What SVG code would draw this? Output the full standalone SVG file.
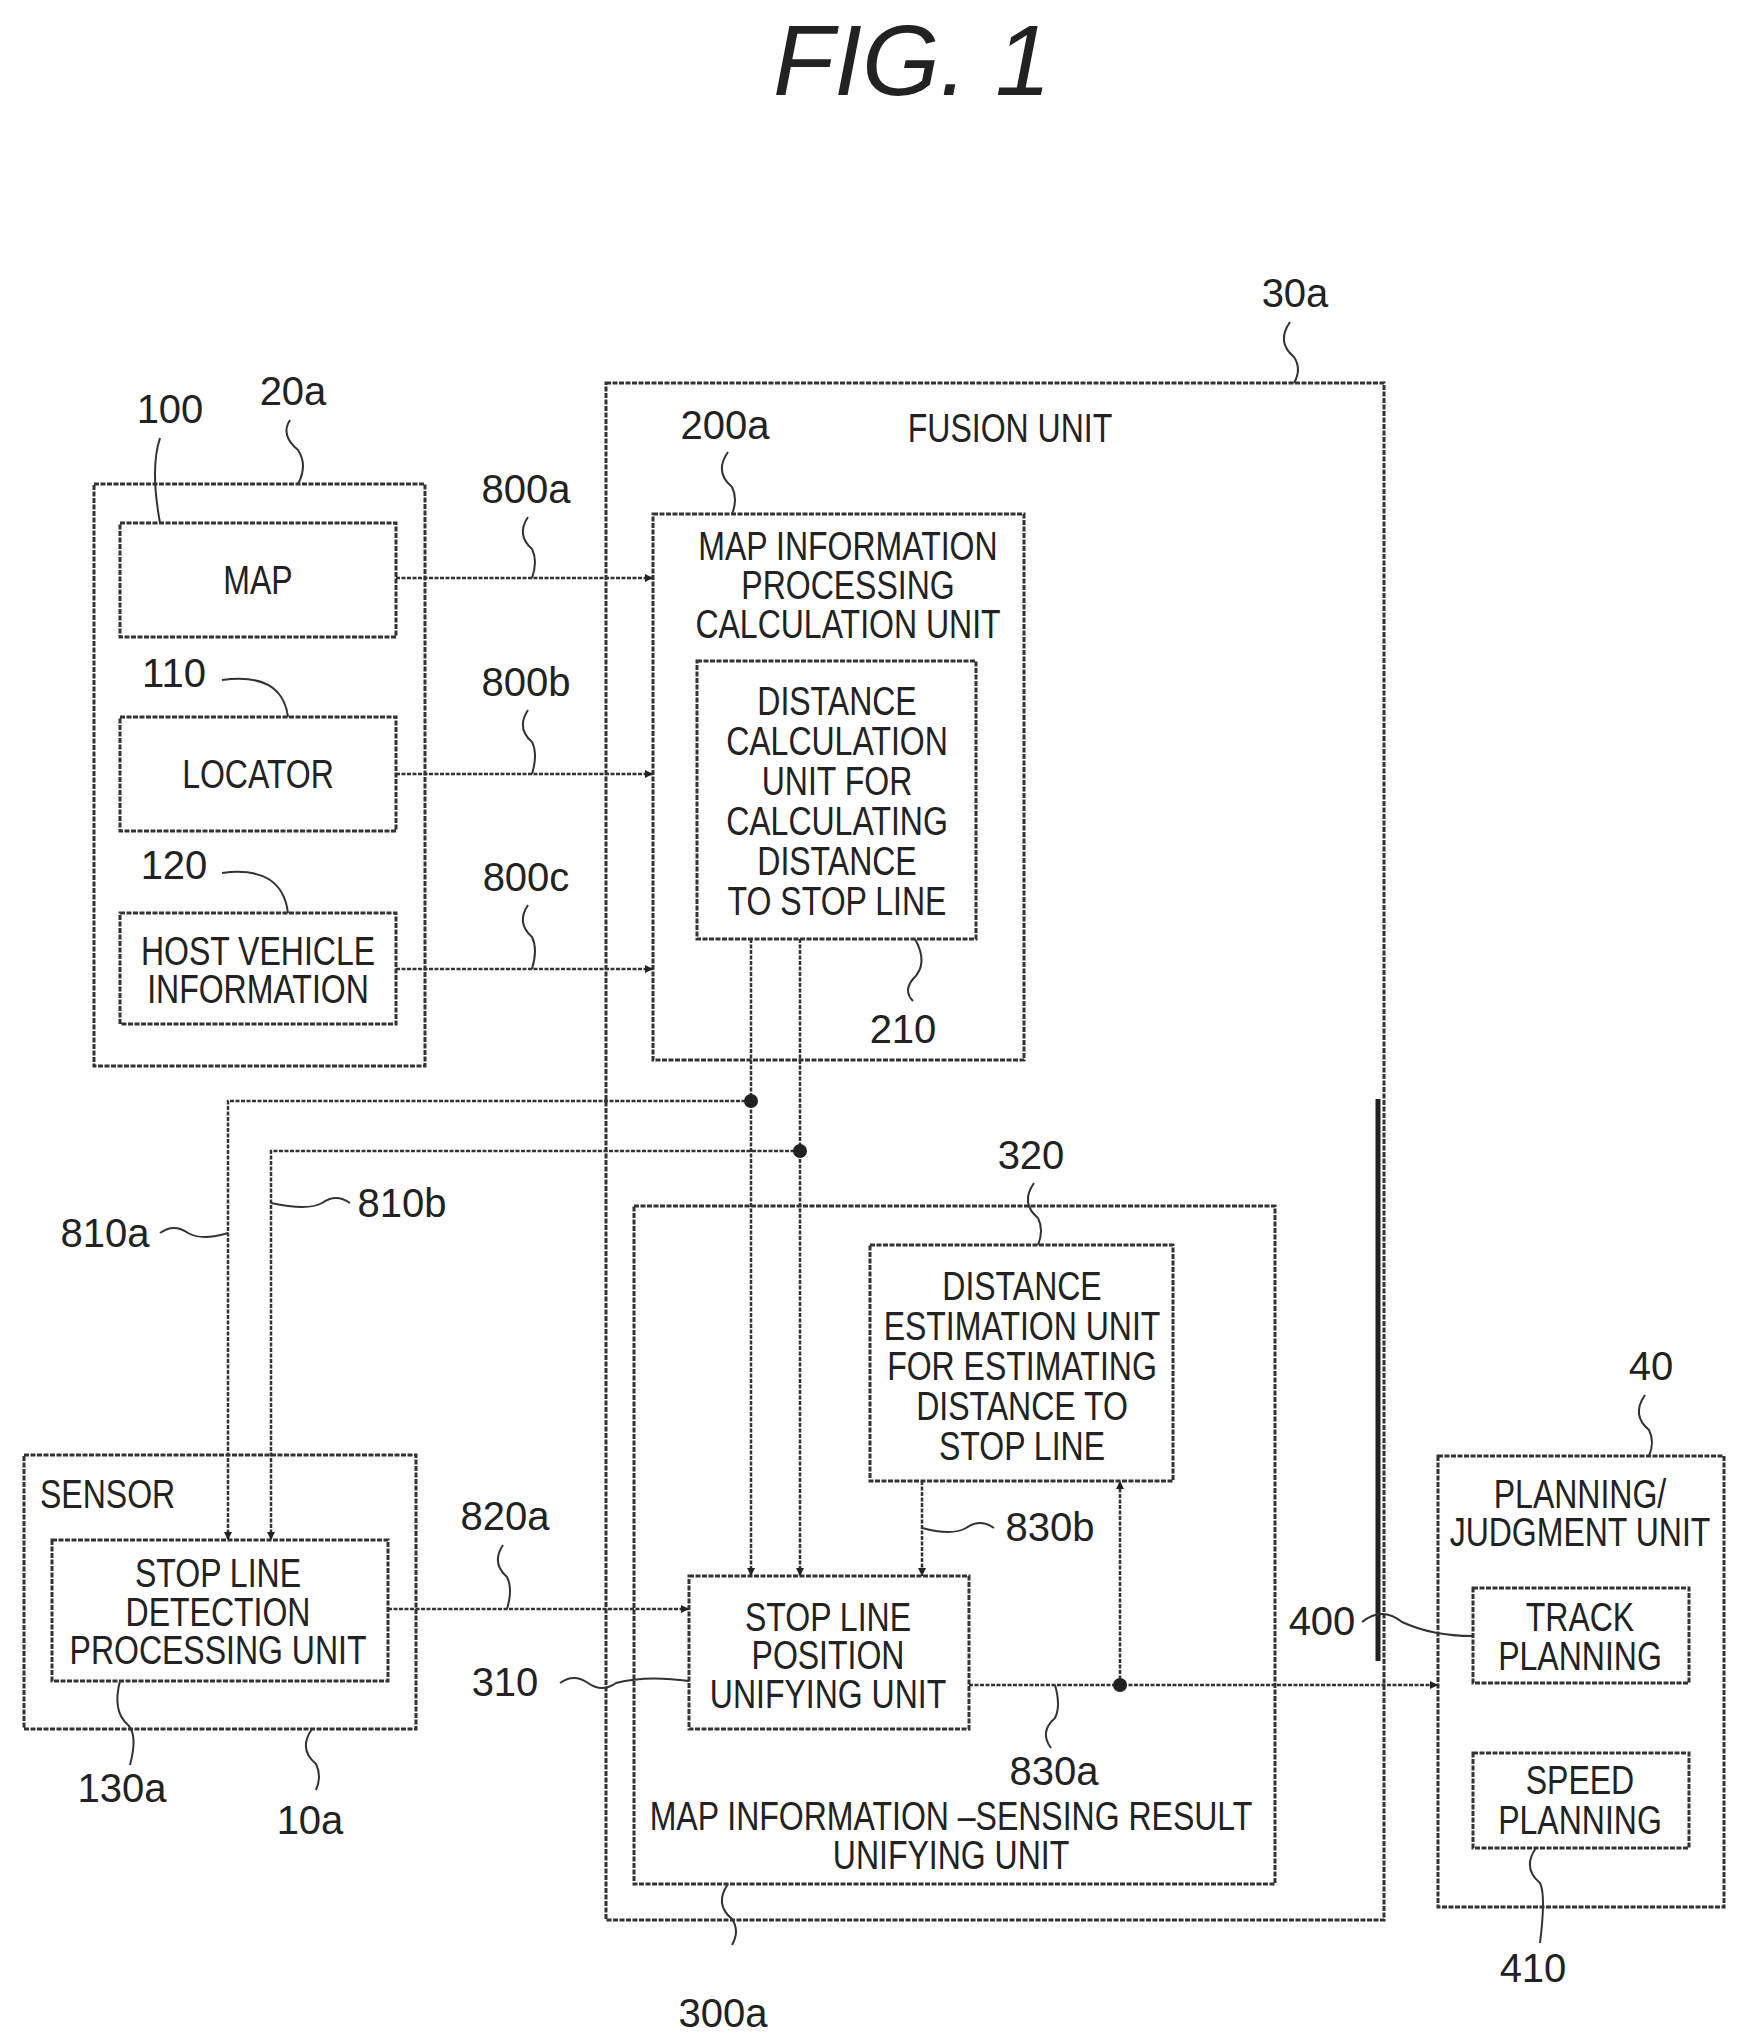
<svg xmlns="http://www.w3.org/2000/svg" width="1745" height="2041" viewBox="0 0 1745 2041">
<defs>
<marker id="ah" viewBox="0 0 10 10" refX="10" refY="5" markerWidth="8" markerHeight="8" markerUnits="userSpaceOnUse" orient="auto"><path d="M0,0 L10,5 L0,10 Z" fill="#222"/></marker>
<style>
.b{fill:none;stroke:#333;stroke-width:3;stroke-dasharray:5 1.5}
.t{font-family:"Liberation Sans",sans-serif;font-size:40px;fill:#222;text-anchor:middle}
.l{font-family:"Liberation Sans",sans-serif;font-size:40px;fill:#222;text-anchor:middle}
.c{fill:none;stroke:#333;stroke-width:2.5;stroke-dasharray:4 1.5}
.s{fill:none;stroke:#333;stroke-width:2}
</style>
</defs>
<rect width="1745" height="2041" fill="#fff"/>
<text x="912" y="95" style="font-family:'Liberation Sans',sans-serif;font-size:100px;font-style:italic;fill:#222;text-anchor:middle">FIG. 1</text>

<g id="n20a"><rect class="b" x="94" y="484" width="331" height="582"/>
<text class="l" x="293" y="405">20a</text><path class="s" d="M290,420 q-10,15 8,30 q10,15 0,34"/>
<text class="l" x="170" y="423">100</text><path class="s" d="M160,438 q-10,30 0,85"/></g>
<g id="n100"><rect class="b" x="120" y="523" width="276" height="114"/><g transform="translate(258,0) scale(0.8,1) translate(-258,0)"><text class="t" x="258" y="594">MAP</text></g></g>
<g id="n110"><rect class="b" x="120" y="717" width="276" height="114"/><g transform="translate(258,0) scale(0.8,1) translate(-258,0)"><text class="t" x="258" y="788">LOCATOR</text></g>
<text class="l" x="174" y="687">110</text><path class="s" d="M222,680 q60,-8 66,37"/></g>
<g id="n120"><rect class="b" x="120" y="913" width="276" height="111"/><g transform="translate(258,0) scale(0.8,1) translate(-258,0)"><text class="t" x="258" y="965">HOST VEHICLE</text><text class="t" x="258" y="1003">INFORMATION</text></g>
<text class="l" x="174" y="879">120</text><path class="s" d="M222,873 q60,-8 66,40"/></g>

<g id="n30a"><rect class="b" x="606" y="383" width="778" height="1537"/><line x1="1378" y1="1099" x2="1378" y2="1661" stroke="#222" stroke-width="5"/>
<text class="l" x="1295" y="307">30a</text><path class="s" d="M1290,322 q-14,20 4,35 q8,12 0,26"/>
<g transform="translate(1010,0) scale(0.8,1) translate(-1010,0)"><text class="t" x="1010" y="442">FUSION UNIT</text></g></g>
<g id="n200a"><rect class="b" x="653" y="514" width="371" height="546"/>
<text class="l" x="725" y="439">200a</text><path class="s" d="M728,452 q-14,20 4,35 q6,12 0,27"/>
<g transform="translate(848,0) scale(0.8,1) translate(-848,0)"><text class="t" x="848" y="560">MAP INFORMATION</text><text class="t" x="848" y="599">PROCESSING</text><text class="t" x="848" y="638">CALCULATION UNIT</text></g></g>
<g id="n210"><rect class="b" x="697" y="661" width="279" height="278"/>
<g transform="translate(837,0) scale(0.8,1) translate(-837,0)"><text class="t" x="837" y="715">DISTANCE</text><text class="t" x="837" y="755">CALCULATION</text><text class="t" x="837" y="795">UNIT FOR</text><text class="t" x="837" y="835">CALCULATING</text><text class="t" x="837" y="875">DISTANCE</text><text class="t" x="837" y="915">TO STOP LINE</text></g>
<text class="l" x="903" y="1043">210</text><path class="s" d="M915,939 q14,25 -2,40 q-10,12 0,22"/></g>

<g id="n300a"><rect class="b" x="634" y="1206" width="641" height="678"/>
<g transform="translate(951,0) scale(0.8,1) translate(-951,0)"><text class="t" x="951" y="1830">MAP INFORMATION –SENSING RESULT</text><text class="t" x="951" y="1869">UNIFYING UNIT</text></g>
<text class="l" x="723" y="2027">300a</text><path class="s" d="M728,1884 q-14,20 4,35 q8,12 0,26"/></g>
<g id="n320"><rect class="b" x="870" y="1245" width="303" height="236"/>
<g transform="translate(1022,0) scale(0.8,1) translate(-1022,0)"><text class="t" x="1022" y="1300">DISTANCE</text><text class="t" x="1022" y="1340">ESTIMATION UNIT</text><text class="t" x="1022" y="1380">FOR ESTIMATING</text><text class="t" x="1022" y="1420">DISTANCE TO</text><text class="t" x="1022" y="1460">STOP LINE</text></g>
<text class="l" x="1031" y="1169">320</text><path class="s" d="M1034,1183 q-14,20 4,35 q6,12 0,27"/></g>
<g id="n310"><rect class="b" x="689" y="1576" width="280" height="153"/>
<g transform="translate(828,0) scale(0.8,1) translate(-828,0)"><text class="t" x="828" y="1631">STOP LINE</text><text class="t" x="828" y="1669">POSITION</text><text class="t" x="828" y="1708">UNIFYING UNIT</text></g>
<text class="l" x="505" y="1696">310</text><path class="s" d="M560,1683 q14,-10 28,0 q14,10 28,0 q30,-8 73,-2"/></g>

<g id="n10a"><rect class="b" x="24" y="1455" width="392" height="274"/>
<g transform="translate(40,0) scale(0.8,1) translate(-40,0)"><text class="t" x="40" y="1508" style="text-anchor:start">SENSOR</text></g>
<text class="l" x="310" y="1834">10a</text><path class="s" d="M312,1729 q-14,20 4,35 q6,12 0,26"/></g>
<g id="n130a"><rect class="b" x="52" y="1540" width="336" height="141"/>
<g transform="translate(218,0) scale(0.8,1) translate(-218,0)"><text class="t" x="218" y="1587">STOP LINE</text><text class="t" x="218" y="1626">DETECTION</text><text class="t" x="218" y="1664">PROCESSING UNIT</text></g>
<text class="l" x="122" y="1802">130a</text><path class="s" d="M120,1681 q-8,30 8,44 q10,10 2,40"/></g>

<g id="n40"><rect class="b" x="1438" y="1456" width="286" height="451"/>
<g transform="translate(1580,0) scale(0.8,1) translate(-1580,0)"><text class="t" x="1580" y="1508">PLANNING/</text><text class="t" x="1580" y="1546">JUDGMENT UNIT</text></g>
<text class="l" x="1651" y="1380">40</text><path class="s" d="M1645,1395 q-14,20 4,35 q6,12 0,26"/></g>
<g id="n400"><rect class="b" x="1473" y="1588" width="216" height="95"/>
<g transform="translate(1580,0) scale(0.8,1) translate(-1580,0)"><text class="t" x="1580" y="1631">TRACK</text><text class="t" x="1580" y="1670">PLANNING</text></g>
<text class="l" x="1322" y="1635">400</text><path class="s" d="M1362,1622 q20,-16 40,0 q30,14 71,14"/></g>
<g id="n410"><rect class="b" x="1473" y="1753" width="216" height="95"/>
<g transform="translate(1580,0) scale(0.8,1) translate(-1580,0)"><text class="t" x="1580" y="1794">SPEED</text><text class="t" x="1580" y="1834">PLANNING</text></g>
<text class="l" x="1533" y="1982">410</text><path class="s" d="M1536,1848 q-14,20 4,35 q6,12 0,60"/></g>

<g id="connectors">
<line class="c" x1="396" y1="578" x2="653" y2="578" marker-end="url(#ah)"/>
<line class="c" x1="396" y1="774" x2="653" y2="774" marker-end="url(#ah)"/>
<line class="c" x1="396" y1="969" x2="653" y2="969" marker-end="url(#ah)"/>
<line class="c" x1="751" y1="939" x2="751" y2="1576" marker-end="url(#ah)"/>
<line class="c" x1="800" y1="939" x2="800" y2="1576" marker-end="url(#ah)"/>
<polyline class="c" points="751,1101 228,1101 228,1540" marker-end="url(#ah)"/>
<polyline class="c" points="800,1151 271,1151 271,1540" marker-end="url(#ah)"/>
<circle cx="751" cy="1101" r="7" fill="#222"/><circle cx="800" cy="1151" r="7" fill="#222"/>
<line class="c" x1="388" y1="1609" x2="689" y2="1609" marker-end="url(#ah)"/>
<line class="c" x1="922" y1="1481" x2="922" y2="1576" marker-end="url(#ah)"/>
<line class="c" x1="969" y1="1685" x2="1438" y2="1685" marker-end="url(#ah)"/>
<line class="c" x1="1120" y1="1685" x2="1120" y2="1481" marker-end="url(#ah)"/>
<circle cx="1120" cy="1685" r="7" fill="#222"/>
<text class="l" x="526" y="503">800a</text><path class="s" d="M528,517 q-12,18 4,32 q6,12 0,29"/>
<text class="l" x="526" y="696">800b</text><path class="s" d="M528,710 q-12,18 4,32 q6,12 0,32"/>
<text class="l" x="526" y="891">800c</text><path class="s" d="M528,905 q-12,18 4,32 q6,12 0,32"/>
<text class="l" x="105" y="1247">810a</text><path class="s" d="M160,1233 q14,-10 28,0 q14,8 40,0"/>
<text class="l" x="402" y="1217">810b</text><path class="s" d="M350,1203 q-14,-10 -28,0 q-14,8 -51,0"/>
<text class="l" x="505" y="1530">820a</text><path class="s" d="M503,1545 q-12,18 4,32 q6,12 0,32"/>
<text class="l" x="1050" y="1541">830b</text><path class="s" d="M994,1528 q-14,-10 -28,0 q-14,8 -44,0"/>
<text class="l" x="1054" y="1785">830a</text><path class="s" d="M1051,1748 q-12,-16 4,-30 q6,-12 0,-33"/>
</g>
</svg>
